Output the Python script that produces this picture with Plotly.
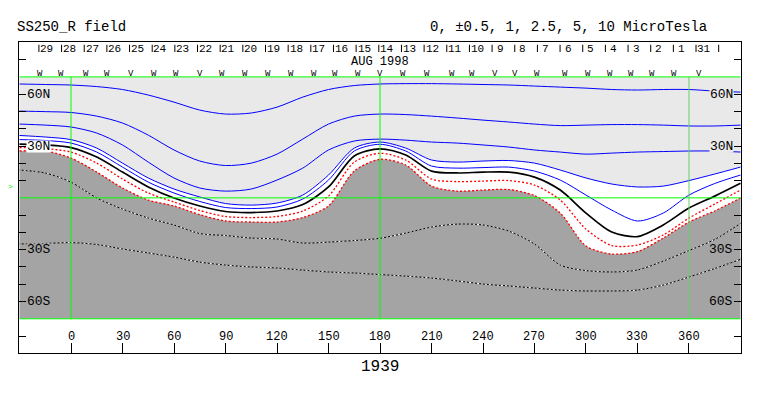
import plotly.graph_objects as go

# ---------------- data ----------------
lon = [-30, -15, 0, 15, 30, 45, 60, 75, 90, 105, 120, 135, 150, 165, 180,
       195, 210, 225, 240, 255, 270, 285, 300, 315, 330, 345, 360, 375, 390]

# contour latitudes (deg) of the source-surface field
lat_p10 = [65.9, 65.6, 65.3, 64.4, 62.7, 59.5, 55.4, 50.8, 48.5, 49.1, 52.5, 58.3, 62.7, 65.0, 65.9,
           66.1, 66.1, 65.9, 65.6, 65.3, 64.7, 64.1, 63.5, 62.7, 62.4, 62.7, 62.7, 61.8, 61.2]
lat_p5 = [50.2, 49.9, 49.4, 47.3, 43.3, 36.3, 27.7, 21.3, 18.7, 20.1, 25.3, 34.0, 42.7, 47.3, 48.5,
          48.2, 47.3, 46.2, 45.0, 43.9, 42.7, 41.8, 42.1, 42.4, 42.4, 42.1, 41.6, 41.6, 42.1]
lat_p2_5 = [42.7, 42.1, 41.0, 37.5, 30.6, 20.7, 11.5, 5.7, 3.9, 5.1, 10.3, 17.2, 27.7, 32.9, 34.0,
            33.4, 32.3, 31.7, 30.6, 29.4, 27.7, 26.5, 25.3, 25.9, 26.5, 26.8, 27.1, 27.1, 26.5]
lat_p1 = [36.1, 35.2, 33.7, 28.8, 20.1, 11.5, 5.1, 0.5, -3.3, -4.2, -3.0, 1.6, 13.2, 28.8, 32.3,
          28.8, 21.9, 20.7, 21.3, 21.6, 20.1, 16.1, 11.5, 8.0, 6.3, 6.8, 10.0, 13.8, 17.8]
lat_p0_5 = [33.7, 33.2, 31.7, 26.5, 17.8, 9.1, 2.8, -2.1, -5.6, -6.2, -5.3, -0.7, 10.3, 27.1, 31.0,
            27.1, 18.4, 17.2, 17.5, 17.8, 15.5, 10.3, 1.6, -7.1, -13.4, -8.8, 1.6, 8.3, 13.2]
lat_0 = [31.1, 30.6, 29.1, 23.6, 14.9, 6.3, -0.1, -4.7, -7.9, -8.5, -7.6, -3.9, 6.3, 24.2, 28.4,
         24.8, 15.5, 14.4, 14.9, 14.9, 12.0, 4.5, -8.8, -19.8, -22.4, -15.7, -5.9, 1.0, 8.4]
lat_m0_5 = [29.1, 28.5, 26.5, 20.1, 10.9, 2.8, -2.4, -7.3, -10.8, -11.4, -10.8, -7.6, 1.0, 20.7, 25.8,
            21.9, 10.9, 9.4, 9.7, 10.0, 7.4, -1.3, -18.1, -27.6, -27.3, -21.5, -11.7, -3.6, 4.5]
lat_m1 = [27.1, 27.1, 23.0, 14.9, 5.7, -1.3, -4.7, -9.7, -13.4, -14.0, -14.0, -11.4, -4.7, 15.5, 22.3,
          19.0, 6.8, 3.9, 4.5, 4.8, 1.3, -8.8, -27.9, -32.5, -31.1, -23.3, -14.0, -7.6, -0.1]
lat_m2_5 = [16.1, 14.4, 9.1, -0.1, -6.5, -11.7, -15.7, -20.7, -21.8, -23.3, -23.8, -26.2, -25.6, -24.7, -23.4,
            -20.4, -16.9, -15.2, -15.7, -19.2, -26.7, -38.9, -42.1, -42.9, -41.8, -36.6, -30.5, -24.1, -14.8]
lat_m5 = [-26.7, -26.4, -25.9, -27.0, -29.6, -31.9, -34.3, -37.2, -38.9, -40.0, -40.6, -41.8, -42.9, -43.5, -44.4,
          -45.3, -46.4, -48.1, -49.9, -51.0, -52.2, -53.4, -53.9, -53.9, -53.4, -50.5, -45.8, -40.9, -35.6]

lat_limit = 70  # extent of the mapped region

lon_ticks = [0, 30, 60, 90, 120, 150, 180, 210, 240, 270, 300, 330, 360]
lat_label_vals = [60, 30, -30, -60]
lat_label_text = ["60N", "30N", "30S", "60S"]
lat_minor = [-80, -60, -50, -40, -30, -20, -10, 10, 20, 30, 40, 50, 60, 80]

date_lons = [-18.7, -5.5, 7.7, 20.9, 34.1, 47.3, 60.5, 73.7, 86.9, 100.1, 113.3, 126.5, 139.7, 152.9,
             166.1, 179.3, 192.5, 205.7, 218.9, 232.1, 245.3, 258.5, 271.7, 284.9, 298.1, 311.3,
             324.5, 337.7, 350.9, 364.1, 377.3]
date_labels = ["29", "28", "27", "26", "25", "24", "23", "22", "21", "20", "19", "18", "17", "16",
               "15", "14", "13", "12", "11", "10", "9", "8", "7", "6", "5", "4", "3", "2", "1", "31"]

obs_lons = [-30.4, -18.3, -5.7, 8.5, 21.2, 35.2, 48.3, 61.4, 75.0, 88.2, 101.3, 114.5, 128.1, 141.7,
            153.8, 167.0, 180.0, 193.6, 207.2, 221.8, 233.5, 247.1, 258.8, 271.4, 288.0, 300.9,
            314.2, 326.4, 338.5, 351.5, 365.7]
obs_marks = ["V", "W", "W", "W", "W", "V", "W", "W", "V", "W", "W", "W", "W", "W",
             "W", "W", "V", "W", "W", "W", "W", "V", "V", "W", "W", "W",
             "W", "W", "W", "W", "V"]

earth_lat = 6.8

# ---------------- figure ----------------
LIGHT = "#e9e9e9"
DARK = "#a4a4a4"
FONT = "Liberation Mono"
n = len(lon)
fig = go.Figure()

def add(y, **kw):
    fig.add_trace(go.Scatter(x=lon, y=y, mode="lines", hoverinfo="skip", showlegend=False, **kw))

sp = dict(shape="spline", smoothing=0.8)
# fills
add([lat_limit] * n, line=dict(width=0, color=LIGHT))
add(lat_p1, line=dict(width=0, color=LIGHT, **sp), fill="tonexty", fillcolor=LIGHT)
add(lat_m1, line=dict(width=0, color=DARK, **sp))
add([-lat_limit] * n, line=dict(width=0, color=DARK), fill="tonexty", fillcolor=DARK)

# positive contours
for y in [lat_p10, lat_p5, lat_p2_5, lat_p1, lat_p0_5]:
    add(y, line=dict(width=1, color="#0000ff", **sp))
# neutral line
add(lat_0, line=dict(width=1.7, color="#000000", **sp))
# negative weak contours (red dotted)
for y in [lat_m0_5, lat_m1]:
    add(y, line=dict(width=1.3, color="#ff0000", dash="2px,2px", **sp))
# negative strong contours (black/white dashed)
for y in [lat_m2_5, lat_m5]:
    add(y, line=dict(width=1, color="#000000", **sp))
    add(y, line=dict(width=1, color="#ffffff", dash="2px,2px", **sp))

shapes = []
GREEN = "#00ff00"
for v in [lat_limit, 0, -lat_limit]:
    shapes.append(dict(type="line", xref="x", yref="y", x0=lon[0], x1=lon[-1], y0=v, y1=v,
                       line=dict(color=GREEN, width=1), layer="above"))
for v, c in [(0, GREEN), (180, GREEN), (360, "#66d066")]:
    shapes.append(dict(type="line", xref="x", yref="y", x0=v, x1=v, y0=-lat_limit, y1=lat_limit,
                       line=dict(color=c, width=1), layer="above"))
for d in date_lons:
    shapes.append(dict(type="line", xref="x", yref="y", x0=d, x1=d, y0=88.6, y1=84.4,
                       line=dict(color="black", width=1), layer="above"))

ann = []
# latitude labels, left and right
left_bg = [LIGHT, "#ffffff", DARK, DARK]
right_bg = [LIGHT, LIGHT, DARK, DARK]
for v, t, lb, rb in zip(lat_label_vals, lat_label_text, left_bg, right_bg):
    ann.append(dict(x=-26.2, y=v, xref="x", yref="y", text=t, showarrow=False, xanchor="left",
                    yanchor="middle", font=dict(family=FONT, size=13, color="black"), bgcolor=lb,
                    borderpad=0, height=11))
    ann.append(dict(x=386.0, y=v, xref="x", yref="y", text=t, showarrow=False, xanchor="right",
                    yanchor="middle", font=dict(family=FONT, size=13, color="black"), bgcolor=rb,
                    borderpad=0, height=11))
# longitude labels
for v in lon_ticks:
    ann.append(dict(x=v, y=-80.6, xref="x", yref="y", text=str(v), showarrow=False,
                    xanchor="center", yanchor="middle", font=dict(family=FONT, size=12, color="black")))
# dates
for d, t in zip(date_lons, date_labels):
    ann.append(dict(x=d + 4.7, y=86.2, xref="x", yref="y", text=t, showarrow=False, borderpad=0,
                    xanchor="center", yanchor="middle", font=dict(family=FONT, size=11, color="black")))
ann.append(dict(x=180, y=78.4, xref="x", yref="y", text="AUG 1998", showarrow=False, borderpad=0,
                xanchor="center", yanchor="middle", font=dict(family=FONT, size=12, color="black")))
for d, t in zip(obs_lons, obs_marks):
    ann.append(dict(x=d, y=71.9, xref="x", yref="y", text=t, showarrow=False, borderpad=0,
                    xanchor="center", yanchor="middle", font=dict(family=FONT, size=9, color="black")))
ann.append(dict(x=-0.005, y=earth_lat, xref="paper", yref="y", text=">", showarrow=False,
                xanchor="right", yanchor="middle", font=dict(family=FONT, size=8, color=GREEN)))
# titles
ann.append(dict(x=-0.0055, y=1.048, xref="paper", yref="paper", text="SS250_R field", showarrow=False,
                xanchor="left", yanchor="middle", font=dict(family=FONT, size=14, color="black")))
ann.append(dict(x=0.5665, y=1.048, xref="paper", yref="paper",
                text="0, \u00b10.5, 1, 2.5, 5, 10 MicroTesla", showarrow=False,
                xanchor="left", yanchor="middle", font=dict(family=FONT, size=14, color="black")))
ann.append(dict(x=180, y=-0.045, xref="x", yref="paper", text="1939", showarrow=False,
                xanchor="center", yanchor="middle", font=dict(family=FONT, size=16, color="black")))

# the page body adds an 8px offset, so the figure is sized to fit the window
fig.update_layout(
    width=755, height=388,
    margin=dict(l=11, r=22, t=34, b=43),
    paper_bgcolor="white", plot_bgcolor="white",
    showlegend=False,
    shapes=shapes, annotations=ann,
    xaxis=dict(range=[-30.3, 390.3], showgrid=False, zeroline=False, showline=True, mirror=True,
               linecolor="black", linewidth=1, ticks="inside", ticklen=10, tickcolor="black",
               tickvals=lon_ticks, showticklabels=False, fixedrange=True),
    yaxis=dict(range=[-89.8, 90.2], showgrid=False, zeroline=False, showline=True, mirror="ticks",
               linecolor="black", linewidth=1, ticks="inside", ticklen=7, tickcolor="black",
               tickvals=lat_minor, showticklabels=False, fixedrange=True),
)

fig.write_html("out.html")
